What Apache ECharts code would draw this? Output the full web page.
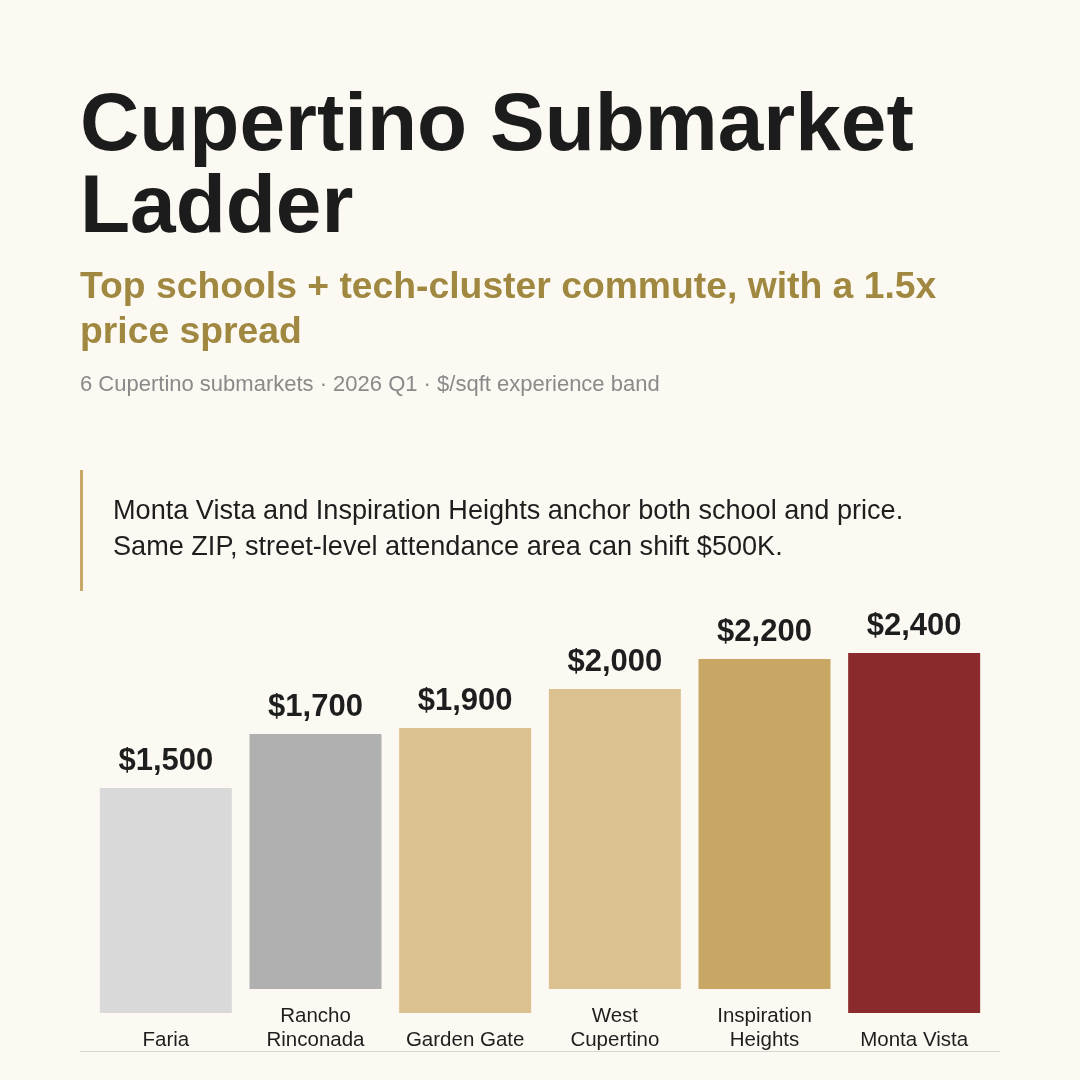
<!DOCTYPE html>
<html>
<head>
<meta charset="utf-8">
<title>Cupertino Submarket Ladder</title>
<script src="https://cdn.jsdelivr.net/npm/echarts@6/dist/echarts.min.js"></script>
<style>
    html, body { margin: 0; padding: 0; background: #fcf9f2; }
    #chart { width: 1080px; height: 1080px; }
</style>
</head>
<body>
<div id="chart"></div>
<script>
    // data
    var categories = ['Faria', 'Rancho\nRinconada', 'Garden Gate', 'West\nCupertino', 'Inspiration\nHeights', 'Monta Vista']
    var prices = [1500, 1700, 1900, 2000, 2200, 2400]
    var barColors = ['#d9d9d9', '#b0b0b0', '#dbc190', '#dbc190', '#c8a764', '#8a2a2d']

    var FONT = 'Liberation Sans, Arial, Helvetica, sans-serif'
    var BAR_W = 132

    var chart = echarts.init(document.getElementById('chart'))

    // bars sit on top of their own label block, like the original layout
    function renderBar(params, api) {
        var i = api.value(0)
        var v = api.value(1)
        var base = api.coord([i, 0])
        var top = api.coord([i, v])
        var lines = categories[i].split('\n').length
        var lift = 15 + 24 * lines
        var h = base[1] - top[1]
        var y1 = base[1] - lift - h
        return {
            type: 'group',
            children: [{
                type: 'rect',
                shape: { x: base[0] - BAR_W / 2, y: y1, width: BAR_W, height: h },
                style: { fill: barColors[i] }
            }, {
                type: 'text',
                x: base[0],
                y: y1 - 11,
                style: {
                    text: '$' + v.toLocaleString('en-US'),
                    fill: '#1e1e1e',
                    font: 'bold 31px ' + FONT,
                    align: 'center',
                    verticalAlign: 'bottom'
                }
            }]
        }
    }

    var option = {
        backgroundColor: '#fcf9f2',
        animation: false,
        title: [{
            text: 'Cupertino Submarket\nLadder',
            left: 80, top: 86, padding: 0,
            textStyle: { fontFamily: FONT, fontWeight: 'bold', fontSize: 82, lineHeight: 82, color: '#1c1c1c' }
        }, {
            text: 'Top schools + tech-cluster commute, with a 1.5x\nprice spread',
            left: 80, top: 265, padding: 0,
            textStyle: { fontFamily: FONT, fontWeight: 'bold', fontSize: 37.3, lineHeight: 45, color: '#a08840' }
        }, {
            text: '6 Cupertino submarkets · 2026 Q1 · $/sqft experience band',
            left: 80, top: 373, padding: 0,
            textStyle: { fontFamily: FONT, fontWeight: 'normal', fontSize: 22, lineHeight: 24, color: '#8a8a8a' }
        }, {
            text: 'Monta Vista and Inspiration Heights anchor both school and price.\nSame ZIP, street-level attendance area can shift $500K.',
            left: 113, top: 494, padding: 0,
            textStyle: { fontFamily: FONT, fontWeight: 'normal', fontSize: 27.1, lineHeight: 36, color: '#1e1e1e' }
        }],
        graphic: [{
            type: 'rect',
            shape: { x: 80, y: 470, width: 3, height: 121 },
            style: { fill: '#c8a866' }
        }, {
            type: 'rect',
            shape: { x: 80, y: 1051, width: 920, height: 1 },
            style: { fill: '#d8d6d0' }
        }],
        grid: { left: 91, right: 91, top: 602, bottom: 28 },
        xAxis: {
            type: 'category',
            data: categories,
            axisLine: { show: false },
            axisTick: { show: false },
            axisLabel: {
                inside: true,
                margin: 0,
                interval: 0,
                fontFamily: FONT,
                fontSize: 20.5,
                lineHeight: 24,
                color: '#1e1e1e'
            }
        },
        yAxis: {
            type: 'value',
            min: 0,
            max: 3000,
            show: false,
            splitLine: { show: false }
        },
        series: [{
            type: 'custom',
            renderItem: renderBar,
            encode: { x: 0, y: 1 },
            data: prices.map(function (p, i) { return [i, p] })
        }]
    }

    chart.setOption(option)
</script>
</body>
</html>
